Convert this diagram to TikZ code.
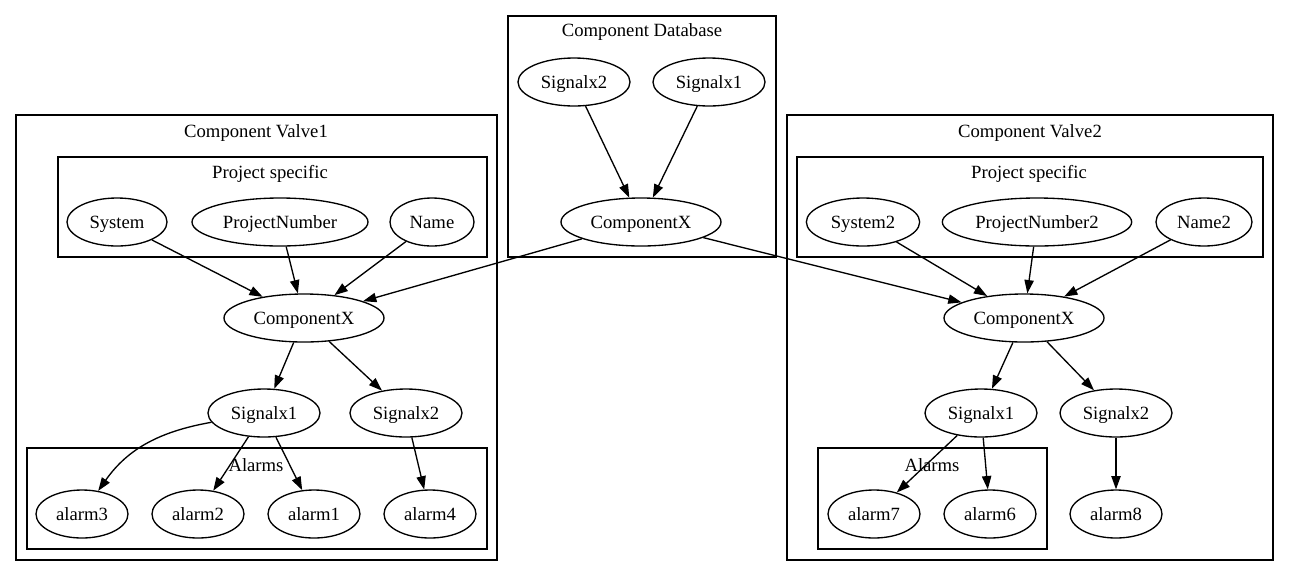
\documentclass[tikz,border=0pt]{standalone}
\usepackage{fontspec}
\setmainfont{Liberation Serif}
\newfontfamily\gvfont{Liberation Serif}
\usetikzlibrary{arrows.meta,shapes.geometric}
\begin{document}
\begin{tikzpicture}[x=0.75pt,y=-0.75pt,
  every node/.style={font=\gvfont\fontsize{14}{16}\selectfont},
  nd/.style={draw,ellipse,line width=1pt,inner sep=0pt,minimum height=36pt,text depth=0pt,text height=9pt},
  box/.style={draw,line width=1pt},
  lbl/.style={inner sep=0pt,text depth=0pt,text height=9pt},
  edge/.style={line width=1pt,-{Triangle[length=10pt,width=7pt]}}]
\useasboundingbox (0,0) rectangle (1289,576);
% clusters
\draw[box] (16,115) rectangle (497,560);
\node[lbl] (t1) at (256,131) {Component Valve1};
\draw[box] (58,157) rectangle (487,257);
\node[lbl] (t1p) at (270,172) {Project specific};
\draw[box] (27,448) rectangle (487,549);
\node[lbl] (t1a) at (256,465) {Alarms};

\draw[box] (508,16) rectangle (776,257);
\node[lbl] (td) at (642,30) {Component Database};

\draw[box] (787,115) rectangle (1273,560);
\node[lbl] (t2) at (1030,131) {Component Valve2};
\draw[box] (797,157) rectangle (1263,257);
\node[lbl] (t2p) at (1029,172) {Project specific};
\draw[box] (818,448) rectangle (1047,549);
\node[lbl] (t2a) at (932,465) {Alarms};

% database nodes
\node[nd,minimum width=84pt] (dbs2) at (574,82) {Signalx2};
\node[nd,minimum width=84pt] (dbs1) at (709,82) {Signalx1};
\node[nd,minimum width=120pt] (dbcx) at (641,222) {ComponentX};

% valve1 nodes
\node[nd,minimum width=75pt] (sys) at (117,222) {System};
\node[nd,minimum width=132pt] (pn) at (280,222) {ProjectNumber};
\node[nd,minimum width=63pt] (nm) at (432,222) {Name};
\node[nd,minimum width=120pt] (v1cx) at (304,318) {ComponentX};
\node[nd,minimum width=84pt] (v1s1) at (264,413) {Signalx1};
\node[nd,minimum width=84pt] (v1s2) at (406,413) {Signalx2};
\node[nd,minimum width=69pt] (a3) at (82,514) {alarm3};
\node[nd,minimum width=69pt] (a2) at (198,514) {alarm2};
\node[nd,minimum width=69pt] (a1) at (314,514) {alarm1};
\node[nd,minimum width=69pt] (a4) at (430,514) {alarm4};

% valve2 nodes
\node[nd,minimum width=85pt] (sys2) at (863,222) {System2};
\node[nd,minimum width=142pt] (pn2) at (1037,222) {ProjectNumber2};
\node[nd,minimum width=72pt] (nm2) at (1204,222) {Name2};
\node[nd,minimum width=120pt] (v2cx) at (1024,318) {ComponentX};
\node[nd,minimum width=84pt] (v2s1) at (981,413) {Signalx1};
\node[nd,minimum width=84pt] (v2s2) at (1116,413) {Signalx2};
\node[nd,minimum width=69pt] (a7) at (874,514) {alarm7};
\node[nd,minimum width=69pt] (a6) at (990,514) {alarm6};
\node[nd,minimum width=69pt] (a8) at (1116,514) {alarm8};

% edges
\draw[edge] (dbs2) -- (dbcx);
\draw[edge] (dbs1) -- (dbcx);
\draw[edge] (dbcx) -- (v1cx);
\draw[edge] (dbcx) -- (v2cx);

\draw[edge] (sys) -- (v1cx);
\draw[edge] (pn) -- (v1cx);
\draw[edge] (nm) -- (v1cx);
\draw[edge] (v1cx) -- (v1s1);
\draw[edge] (v1cx) -- (v1s2);
\draw[edge] (v1s1) to[out=190,in=55] (a3);
\draw[edge] (v1s1) -- (a2);
\draw[edge] (v1s1) -- (a1);
\draw[edge] (v1s2) -- (a4);

\draw[edge] (sys2) -- (v2cx);
\draw[edge] (pn2) -- (v2cx);
\draw[edge] (nm2) -- (v2cx);
\draw[edge] (v2cx) -- (v2s1);
\draw[edge] (v2cx) -- (v2s2);
\draw[edge] (v2s1) -- (a7);
\draw[edge] (v2s1) -- (a6);
\draw[edge] (v2s2) -- (a8);
\end{tikzpicture}
\end{document}
